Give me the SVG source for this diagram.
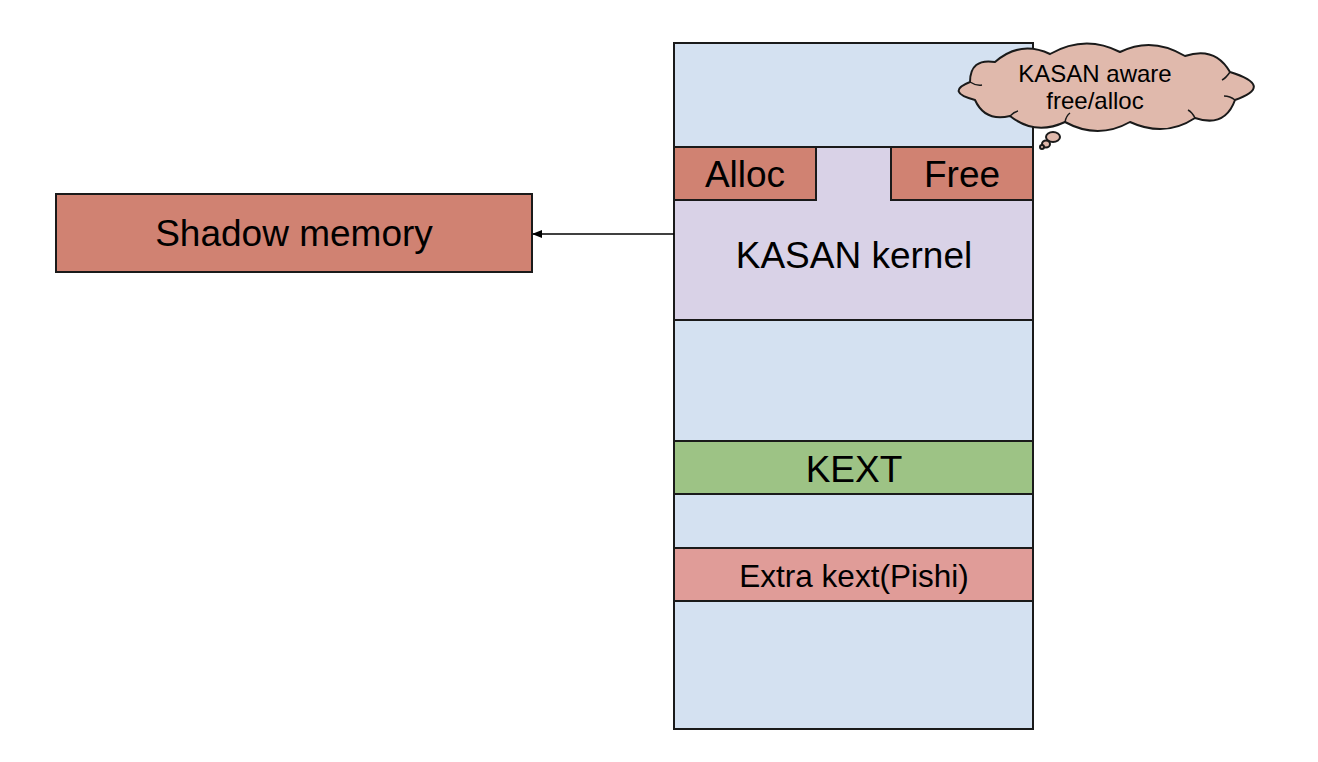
<svg xmlns="http://www.w3.org/2000/svg" width="1318" height="762" viewBox="0 0 1318 762">
<style>
.b{stroke:#1a1a1a;stroke-width:2}
.t{font-family:"Liberation Sans",Arial,sans-serif;fill:#000;text-anchor:middle}
</style>
<defs>
<marker id="ah" markerWidth="10" markerHeight="8" refX="9" refY="4" orient="auto" markerUnits="userSpaceOnUse">
<path d="M0,0 L10,4 L0,8 Z" fill="#000"/>
</marker>
</defs>
<rect width="1318" height="762" fill="#fff"/>
<g id="memory">
<rect class="b" x="674" y="43" width="359" height="686" fill="#d4e1f1"/>
</g>
<g id="kasan-kernel">
<rect class="b" x="674" y="147" width="359" height="173" fill="#d9d2e7"/>
<text class="t" x="854" y="268" font-size="37">KASAN kernel</text>
</g>
<g id="alloc">
<rect class="b" x="674" y="147" width="142" height="53" fill="#d08272"/>
<text class="t" x="745" y="187" font-size="37">Alloc</text>
</g>
<g id="free">
<rect class="b" x="891" y="147" width="142" height="53" fill="#d08272"/>
<text class="t" x="962" y="187" font-size="37">Free</text>
</g>
<g id="kext">
<rect class="b" x="674" y="441" width="359" height="53" fill="#9dc385"/>
<text class="t" x="854" y="482" font-size="37">KEXT</text>
</g>
<g id="extra-kext">
<rect class="b" x="674" y="548" width="359" height="53" fill="#e09c98"/>
<text class="t" x="854" y="587" font-size="31.5">Extra kext(Pishi)</text>
</g>
<g id="shadow-memory">
<rect class="b" x="56" y="194" width="476" height="78" fill="#d08272"/>
<text class="t" x="294" y="246" font-size="37">Shadow memory</text>
</g>
<g id="cloud">
<path class="b" fill="#e0b9ac" d="M970,82 Q970,58 995,62 Q1020,40 1050,54 Q1085,34 1120,52 Q1152,36 1185,56 Q1215,46 1230,72 Q1275,86 1235,100 Q1225,128 1195,118 Q1165,138 1130,122 Q1098,140 1065,122 Q1035,136 1010,116 Q985,122 975,100 Q945,92 970,82 Z"/>
<g fill="none" stroke="#1a1a1a" stroke-width="1.5">
<path d="M970,82 Q976,86 982,85"/>
<path d="M1230,72 Q1226,78 1222,80"/>
<path d="M1235,100 Q1230,96 1224,96"/>
<path d="M1195,118 Q1192,112 1188,110"/>
<path d="M1065,122 Q1066,116 1070,113"/>
<path d="M1010,116 Q1014,112 1018,111"/>
</g>
<ellipse class="b" cx="1053" cy="137" rx="7" ry="5" fill="#e0b9ac" stroke-width="1.5"/>
<ellipse class="b" cx="1046" cy="144" rx="4" ry="3.5" fill="#e0b9ac" stroke-width="1.5"/>
<circle class="b" cx="1042" cy="147" r="2" fill="#e0b9ac" stroke-width="1.2"/>
<text class="t" x="1095" y="82" font-size="24">KASAN aware</text>
<text class="t" x="1095" y="109" font-size="24">free/alloc</text>
</g>
<g id="connectors">
<line x1="674" y1="234" x2="533" y2="234" stroke="#000" stroke-width="1.5" marker-end="url(#ah)"/>
</g>
</svg>
